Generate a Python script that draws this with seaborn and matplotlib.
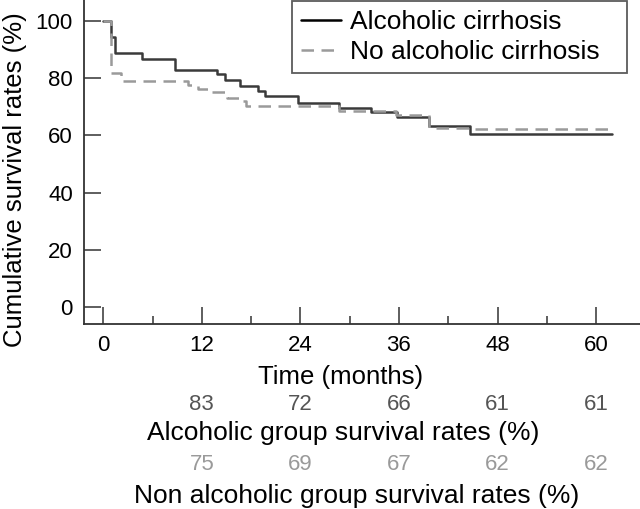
import numpy as np
import pandas as pd
import matplotlib
matplotlib.use("Agg")
import matplotlib.pyplot as plt
import matplotlib.transforms as mtransforms
import seaborn as sns

# Kaplan-Meier steps
alc_months = [0, 0.9, 1.4, 4.7, 8.7, 13.9, 14.8, 16.7, 18.8, 19.7, 23.7, 28.7, 32.6, 35.8, 39.7, 44.6, 62]
alc_surv = [100, 94.3, 88.9, 86.7, 82.8, 81.5, 79.3, 77.4, 75.5, 73.8, 71.4, 69.7, 68.1, 66.3, 63.3, 60.3, 60.3]

non_months = [0, 0.9, 2.2, 10.3, 11.5, 12.8, 15.1, 16.7, 17.4, 28.7, 35.7, 39.7, 44.6, 62]
non_surv = [100, 81.9, 79.1, 77.6, 76.3, 75.0, 73.2, 72.0, 70.4, 68.6, 67.1, 62.6, 62.2, 62.2]

# survival table under the axis
table_months = [12, 24, 36, 48, 60]
alc_rates = [83, 72, 66, 61, 61]
non_rates = [75, 69, 67, 62, 62]

sns.set_style("ticks", {"axes.edgecolor": "#333333", "text.color": "black",
                        "axes.labelcolor": "black"})
plt.rcParams["font.family"] = ["Liberation Sans", "DejaVu Sans"]

W, H = 640, 509
fig = plt.figure(figsize=(W / 100, H / 100), dpi=100)
ax = fig.add_axes([84 / W, 1 - 324 / H, 556 / W, 324 / H])

df_alc = pd.DataFrame({"month": alc_months, "surv": alc_surv})
df_non = pd.DataFrame({"month": non_months, "surv": non_surv})

sns.lineplot(data=df_alc, x="month", y="surv", ax=ax, drawstyle="steps-post",
             color="#3a3a3a", linewidth=1.8, label="Alcoholic cirrhosis", estimator=None)
sns.lineplot(data=df_non, x="month", y="surv", ax=ax, drawstyle="steps-post",
             color="#9a9a9a", linewidth=1.8, linestyle=(0, (5, 3)),
             label="No alcoholic cirrhosis", estimator=None)

ax.set_xlim(-2.35, 65.35)
ax.set_ylim(-5.94, 107.3)
ax.set_xticks(np.arange(0, 61, 12))
ax.set_xticks(np.arange(6, 60, 12), minor=True)
ax.set_yticks(np.arange(0, 101, 20))
ax.tick_params(axis="both", which="major", direction="in", length=12, width=1.1,
               color="#333333", labelsize=16, labelcolor="black", left=True, bottom=True)
ax.tick_params(axis="x", which="major", pad=8)
ax.tick_params(axis="y", which="major", pad=8)
ax.tick_params(axis="x", which="minor", direction="in", length=6, width=1.1,
               color="#333333", bottom=True)

for s in ["top", "right"]:
    ax.spines[s].set_visible(False)
for s in ["left", "bottom"]:
    ax.spines[s].set_color("#333333")
    ax.spines[s].set_linewidth(1.3)

ax.set_xlabel("")
ax.set_ylabel("Cumulative survival rates (%)", fontsize=18.5, color="black")
ax.yaxis.set_label_coords(-0.1025, 1 - 180 / 324)

leg = ax.legend(loc="upper left", bbox_to_anchor=(292 / W, 1 - 72 / H, 335 / W, 71 / H),
                bbox_transform=fig.transFigure, mode="expand", borderaxespad=0,
                fontsize=19, frameon=True, fancybox=False, handlelength=1.5,
                handletextpad=0.35, labelspacing=0.22, borderpad=0.35)
leg.get_frame().set_edgecolor("#333333")
leg.get_frame().set_linewidth(1.3)
leg.legend_handles[0].set_color("black")

# texts below the axis
trans = mtransforms.blended_transform_factory(ax.transData, fig.transFigure)
fig.text(341 / W, 1 - 377 / H, "Time (months)", ha="center", va="center", fontsize=18.5)
for m, a, n in zip(table_months, alc_rates, non_rates):
    ax.text(m, 1 - 405 / H, str(a), transform=trans, ha="center", va="center",
            fontsize=16, color="#555555")
    ax.text(m, 1 - 465 / H, str(n), transform=trans, ha="center", va="center",
            fontsize=16, color="#9a9a9a")
fig.text(343 / W, 1 - 433 / H, "Alcoholic group survival rates (%)", ha="center",
         va="center", fontsize=19)
fig.text(357 / W, 1 - 496 / H, "Non alcoholic group survival rates (%)", ha="center",
         va="center", fontsize=19)

fig.savefig("out.png", dpi=100)
